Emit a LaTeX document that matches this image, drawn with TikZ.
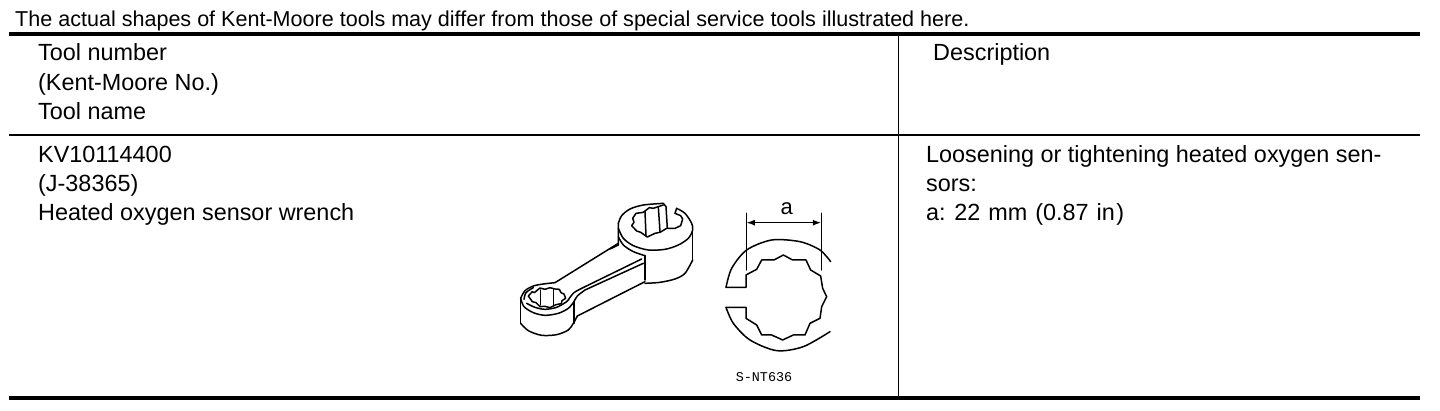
\documentclass[tikz,border=0pt]{standalone}
\usepackage{fontspec}
\setmainfont{Liberation Sans}
\newfontfamily\monofam{Liberation Mono}
\usetikzlibrary{arrows.meta}
\tikzset{
 tx/.style={anchor=base west,inner sep=0pt,font=\fontsize{23.4}{24}\selectfont},
 ttl/.style={anchor=base west,inner sep=0pt,font=\fontsize{21.55}{22}\selectfont},
 heavy/.style={line width=4pt},
 thin rule/.style={line width=2pt},
 vrule/.style={line width=1pt},
 ink/.style={line width=1.5pt,line join=round,line cap=round},
}
\begin{document}
\begin{tikzpicture}[x=1pt,y=-1pt]
\useasboundingbox (0,0) rectangle (1440,410);
\fill[white] (0,0) rectangle (1440,410);
% rules
\coordinate (tl) at (9,34); \coordinate (tr) at (1420,34);
\coordinate (ml) at (9,134.5); \coordinate (mr) at (1420,134.5);
\coordinate (bl) at (9,398); \coordinate (br) at (1420,398);
\coordinate (vt) at (898,34); \coordinate (vb) at (898,398);
\draw[heavy] (tl) -- (tr);
\draw[thin rule] (ml) -- (mr);
\draw[heavy] (bl) -- (br);
\draw[vrule] (vt) -- (vb);
% text
\node[ttl] (title) at (15,26) {The actual shapes of Kent-Moore tools may differ from those of special service tools illustrated here.};
\node[tx] (h1) at (38,60.5) {Tool number};
\node[tx] (h2) at (38,90) {(Kent-Moore No.)};
\node[tx] (h3) at (38,119) {Tool name};
\node[tx] (h4) at (933,60.5) {Description};
\node[tx] (r1) at (38,162) {KV10114400};
\node[tx] (r2) at (38,191.5) {(J-38365)};
\node[tx] (r3) at (38,220.5) {Heated oxygen sensor wrench};
\node[tx] (d1) at (926,162) {Loosening or tightening heated oxygen sen-};
\node[tx] (d2) at (926,191.5) {sors:};
\node[tx] (d3) at (926,220.5) {a: 22\hspace{1.5pt} mm\hspace{1.5pt} (0.87\hspace{1.5pt} in\hspace{1.5pt})};
% wrench, small end and arm
\begin{scope}[shift={(500,190)},x=.3333pt,y=-.3333pt]
\draw[ink] plot[smooth] coordinates {(62,325)(75,302)(100,288)(130,282)(165,278)};
\draw[ink] (165,278) -- (355,160);
\draw[ink] plot[smooth] coordinates {(62,325)(72,350)(100,368)(135,376)(175,370)(205,355)(222,335)};
\draw[ink] plot[smooth] coordinates {(72,328)(78,308)(100,293)};
\draw[ink] plot[smooth] coordinates {(80,340)(105,352)(135,358)(170,352)(200,335)(208,325)};
\draw[ink] (85,318) -- (97,305) -- (103,308) -- (120,294) -- (135,298) -- (150,293) -- (165,297) -- (178,298) -- (183,308) -- (192,312) -- (197,325) -- (186,332) -- (184,341) -- (168,344) -- (150,353) -- (135,349) -- (120,350) -- (108,338) -- (97,335) -- cycle;
\draw[ink] (122,300) -- (122,345);
\draw[ink] (160,298) -- (160,347);
\draw[ink] (62,325) -- (62,400);
\draw[ink] plot[smooth] coordinates {(62,400)(85,422)(125,436)(170,434)(205,420)(220,400)(232,378)};
\draw[ink] (222,335) -- (222,400);
\draw[ink] (232,378) -- (435,275);
\draw[ink] plot[smooth] coordinates {(208,325)(222,308)(245,295)};
\draw[ink] (245,295) -- (425,207);
\draw[ink] plot[smooth] coordinates {(222,335)(232,318)(255,300)};
\draw[ink] (255,300) -- (430,220);
\end{scope}
% wrench, large end
\begin{scope}[shift={(610,195)},x=.3333pt,y=-.3333pt]
\draw[ink] plot[smooth] coordinates {(25,85)(35,62)(60,42)(100,30)(160,25)};
\draw[ink] (160,25) -- (168,35) -- (172,100);
\draw[ink] plot[smooth] coordinates {(200,40)(225,55)(245,85)(248,105)(235,130)(205,150)(165,163)(115,165)(70,152)(40,130)(25,100)};
\draw[ink] (200,40) -- (195,55);
\draw[ink] (160,30) -- (130,40) -- (118,38) -- (100,52) -- (78,55) -- (68,70) -- (72,82) -- (65,92) -- (80,108) -- (92,112) -- (112,126) -- (135,115) -- (150,112) -- (170,100);
\draw[ink] (195,55) -- (212,62) -- (218,72) -- (212,92) -- (195,100) -- (172,100);
\draw[ink] (105,50) -- (108,122);
\draw[ink] (145,36) -- (150,110);
\draw[ink] (25,85) -- (25,150) -- (0,162);
\draw[ink] plot[smooth] coordinates {(25,125)(40,150)(70,170)(105,182)};
\draw[ink] (105,182) -- (105,255);
\draw[ink] (248,100) -- (248,195);
\draw[ink] plot[smooth] coordinates {(248,195)(225,235)(195,252)(150,262)(105,265)};
\end{scope}
% section view
\begin{scope}[shift={(700,190)},x=.3333pt,y=-.3333pt]
\coordinate (e1t) at (139,70); \coordinate (e1b) at (139,240);
\coordinate (e2t) at (364,70); \coordinate (e2b) at (364,240);
\coordinate (a1) at (139,98); \coordinate (a2) at (364,98);
\draw[ink] (e1t) -- (e1b);
\draw[ink] (e2t) -- (e2b);
\draw[ink,{Latex[length=8.5pt,width=6pt]}-{Latex[length=8.5pt,width=6pt]}] (a1) -- (a2);
\draw[ink] plot[smooth] coordinates {(78,292)(95,235)(140,180)(215,150)(300,155)(360,180)(392,215)};
\draw[ink] plot[smooth] coordinates {(78,352)(100,400)(150,450)(230,482)(310,470)(390,425)};
\draw[ink] (78,292) -- (138,292) -- (138,255) -- (170,238) -- (185,210) -- (222,210) -- (250,195) -- (278,210) -- (318,210) -- (332,240) -- (362,258) -- (368,295) -- (380,320) -- (365,350) -- (360,385) -- (330,400) -- (315,435) -- (280,435) -- (248,450) -- (215,435) -- (185,435) -- (170,405) -- (138,385) -- (138,352) -- (78,352);
\node[anchor=base,inner sep=0pt,font=\fontsize{22}{22}\selectfont] (dimA) at (260,73) {a};
\node[anchor=base,inner sep=0pt,font=\monofam\fontsize{13.4}{14}\selectfont] (code) at (192,574) {S-NT636};
\end{scope}
\end{tikzpicture}
\end{document}
